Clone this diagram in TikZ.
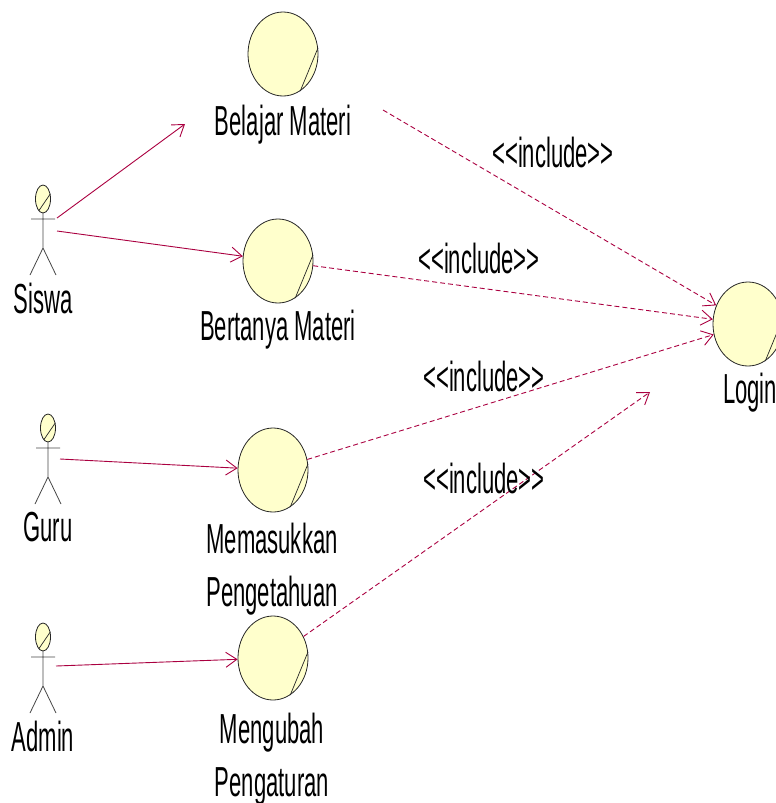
\documentclass[tikz,border=0pt]{standalone}
\usepackage{fontspec}
\setmainfont{Liberation Sans}[FakeStretch=0.525]
\usetikzlibrary{shapes.geometric,arrows.meta}
\definecolor{conn}{RGB}{170,0,64}
\definecolor{ucfill}{RGB}{255,255,204}
\definecolor{actorline}{RGB}{70,70,70}
\newcommand\incltext{<\kern0pt<include>\kern0pt>}
\newcommand\umlactor[4]{%
  \begin{scope}[shift={(#2,#3)}]
    \draw[actorline, line width=0.8pt] (0,14) -- (0,49) (-12,20) -- (12,20) (-13,76) -- (0,49) -- (13,76);
    \node[actorhead] (#1) at (0,0) {};
    \draw[black!85, line width=0.7pt] (#1.-110) -- (#1.35);
    \node[lbl] (#1lbl) at (0,99) {#4};
  \end{scope}}
\begin{document}
\begin{tikzpicture}[x=1pt,y=-1pt,
  usecase/.style={ellipse, draw=black!85, fill=ucfill, line width=0.8pt, minimum width=70pt, minimum height=84pt, inner sep=0pt},
  actorhead/.style={ellipse, draw=black!85, fill=ucfill, line width=0.8pt, minimum width=15pt, minimum height=28pt, inner sep=0pt},
  lbl/.style={font=\fontsize{42}{53}\selectfont, inner sep=0pt, align=center},
  assoc/.style={draw=conn, line width=0.9pt, -{Straight Barb[length=11pt,width=15pt,line width=0.9pt]}},
  incl/.style={assoc, dash pattern=on 5pt off 3pt},
  slash/.style={black!85, line width=0.7pt}
]
\useasboundingbox (0,0) rectangle (776,803);

% use cases
\node[usecase] (belajar) at (283,54) {};
\draw[slash] (belajar.10) -- (belajar.-65);
\node[lbl] (belajarlbl) at (283,125) {Belajar Materi};

\node[usecase] (bertanya) at (278,261) {};
\draw[slash] (bertanya.10) -- (bertanya.-65);
\node[lbl] (bertanyalbl) at (278,330) {Bertanya Materi};

\node[usecase] (memasukkan) at (273,470) {};
\draw[slash] (memasukkan.10) -- (memasukkan.-65);
\node[lbl] (memasukkanlbl) at (272,569) {Memasukkan\\Pengetahuan};

\node[usecase] (mengubah) at (273,658) {};
\draw[slash] (mengubah.10) -- (mengubah.-65);
\node[lbl] (mengubahlbl) at (272,759) {Mengubah\\Pengaturan};

\node[usecase] (login) at (748,324) {};
\draw[slash] (login.10) -- (login.-65);
\node[lbl] (loginlbl) at (750,393) {Login};

% actors
\umlactor{siswa}{43}{199}{Siswa}
\umlactor{guru}{48}{428}{Guru}
\umlactor{admin}{43}{637}{Admin}

% free ends
\coordinate (siswaA) at (57,218);
\coordinate (siswaB) at (57,231);
\coordinate (guruA) at (60,459);
\coordinate (adminA) at (56,666);
\coordinate (belajarEnd) at (185,124);
\coordinate (belajarStart) at (383,110);
\coordinate (mengubahEnd) at (650,392);

% associations
\draw[assoc] (siswaA) -- (belajarEnd);
\draw[assoc] (siswaB) -- (bertanya);
\draw[assoc] (guruA) -- (memasukkan);
\draw[assoc] (adminA) -- (mengubah);

% includes
\draw[incl] (belajarStart) -- (login);
\draw[incl] (bertanya) -- (login);
\draw[incl] (memasukkan) -- (login);
\draw[incl] (mengubah) -- (mengubahEnd);

\node[lbl] (inc1) at (553,152) {\incltext};
\node[lbl] (inc2) at (479,258) {\incltext};
\node[lbl] (inc3) at (484,376) {\incltext};
\node[lbl] (inc4) at (484,478) {\incltext};
\end{tikzpicture}
\end{document}
